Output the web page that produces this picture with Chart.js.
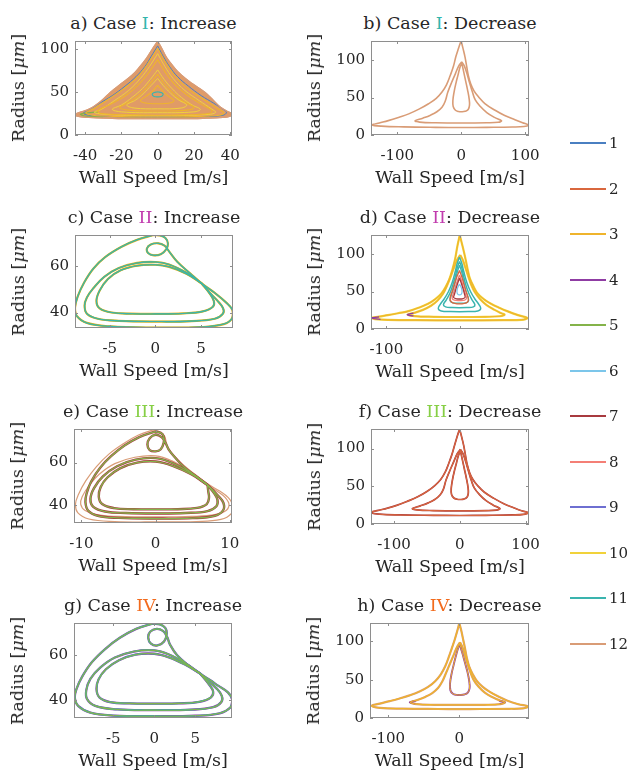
<!DOCTYPE html>
<html lang="en">
<head>
<meta charset="UTF-8">
<title>Radius vs wall speed - cases I to IV</title>
<script src="https://cdn.jsdelivr.net/npm/chart.js"></script>
<style>
  body { margin: 0; background: #fff; }
  #fig { position: relative; width: 628px; height: 771px; font-family: "DejaVu Serif", serif; color: #262626; overflow: hidden; }
  #fig canvas { position: absolute; }
  .ttl, .xl { position: absolute; font-size: 17.5px; line-height: 20px; text-align: center; white-space: nowrap; }
  .yl { position: absolute; font-size: 17.5px; line-height: 20px; white-space: nowrap; transform: translate(-50%, -50%) rotate(-90deg); }
  .leg { position: absolute; left: 570px; width: 36px; height: 2px; }
  .legt { position: absolute; left: 609px; font-size: 15px; line-height: 18px; }
</style>
</head>
<body>
<div id="fig"></div>
<script>
// ---- series (legend) ----
const seriesNames = ['1', '2', '3', '4', '5', '6', '7', '8', '9', '10', '11', '12'];
const seriesColors = ['#4a7fc1', '#d9673e', '#efb42c', '#8f3ca3', '#84b34a', '#7cc6ea',
                      '#a83a3f', '#f47f76', '#6e6fd1', '#f1d23a', '#3ab4ae', '#d99c76'];

// ---- tick labels ----
const xTicksA = [-40, -20, 0, 20, 40];
const xTicksBF = [-100, 0, 100];
const xTicksDH = [-100, 0];
const xTicksCG = [-5, 0, 5];
const xTicksE = [-10, 0, 10];
const yTicksR = [0, 50, 100];
const yTicksS = [40, 60];

// ---- a) Case I: Increase  (wall speed [m/s], radius [um]) ----
const aOuter = [[0,109.5],[2.5,100],[5,90],[8.6,80],[13,70],[19,60],[26,50],[30,42],[34.3,33],[38,28],[40.8,25],[40,22],[36,20.5],[25,19.5],[10,19],[0,19],[-10,19],[-25,19.5],[-38,20.5],[-44.5,22],[-45.3,24],[-43,26.5],[-39,29],[-35.4,33],[-31,40],[-26,50],[-20,60],[-14,70],[-9.7,80],[-6,90],[-3,100],[0,109.5]];
const aBlue = [[0,104],[3,92],[6.5,80],[11,68],[17,57],[24,46],[31,37],[36,30],[38,26.5],[36,23],[25,21.5],[0,21],[-25,21.5],[-38,23],[-41,25.5],[-38,29],[-32,37],[-25,46],[-18,57],[-12,68],[-7,80],[-3.5,92],[0,104]];
const aGreen = [[-33,27],[-42.5,24.5],[-40,22],[-30,21]];
const aY1 = [[0,101],[4,86],[9,70],[16,55],[25,42],[33,31],[36.5,26],[34,23],[20,21.5],[0,21],[-20,21.5],[-36,23],[-39.5,26],[-35,31],[-27,42],[-18,55],[-10,70],[-4.5,86],[0,101]];
const aY1b = [[0,95],[4,80],[8.5,66],[15,52],[23,40],[30,30],[32,26.5],[28,24],[0,22.5],[-28,24],[-35,26.5],[-31,30],[-24,40],[-16,52],[-9.5,66],[-4.5,80],[0,95]];
const aY2 = [[0,88],[4,74],[9,60],[16,47],[24,36],[30,28.5],[28,25],[15,23.5],[0,23],[-15,23.5],[-31,25],[-33,28.5],[-26,36],[-17,47],[-10,60],[-4.5,74],[0,88]];
const aY3 = [[0,76],[3.5,65],[8,54],[13,44],[19,35],[23.5,30],[20,27],[0,26],[-20,27],[-25,30],[-20,35],[-14,44],[-8.5,54],[-4,65],[0,76]];
const aY3b = [[0,71],[3.3,61],[7.5,51],[12,42],[17,36],[20,32],[16,29],[0,28],[-16,29],[-21,32],[-18,36],[-13,42],[-8,51],[-3.8,61],[0,71]];
const aY4 = [[0,66],[3,58],[7,49],[11.5,41],[16,35],[13,31.5],[0,30.5],[-13,31.5],[-17,35],[-12,41],[-7.5,49],[-3.5,58],[0,66]];
const aY5 = [[0,58],[3,51],[6,45],[9,40],[6,37],[0,36.5],[-6,37],[-9.5,40],[-6.5,45],[-3,51],[0,58]];
const aCore = [[0,50.5],[2.5,49],[3,47],[2,45],[0,44.5],[-2,45],[-3,47],[-2.5,49],[0,50.5]];

// ---- b) Case I: Decrease ----
const bOuter = [[0,125.4],[3,115],[6,104],[8.5,92],[11,80],[15,68],[20,59],[27,51],[37,42],[53,33],[68,26],[84,20.5],[96,16.5],[105,13.4],[98,11.3],[80,10.6],[40,10.2],[0,10],[-40,10.2],[-90,10.8],[-125,11.8],[-139,13.4],[-128,16],[-114,19.2],[-98,23.5],[-82,28.2],[-66,34.5],[-51,41.7],[-39,49],[-30,57.4],[-23,67],[-17,79.7],[-12,92],[-8.4,104.4],[-4.5,115],[-1.5,122.5],[0,125.4]];
const bMid = [[1,97.7],[5,92],[9,82],[13,70],[17.7,57],[22,47],[30,38],[40,30],[52,23.5],[63,19],[58,17],[40,16.3],[0,16],[-40,16.3],[-65,17.2],[-72,19],[-60,22.5],[-48,26.5],[-38,31],[-30,37],[-25,45],[-21,57],[-15,70],[-9,82],[-4,92],[1,97.7]];
const bTear = [[1,96],[-2,90],[-5,80],[-8,70],[-11,58],[-13,46],[-12.5,38],[-9,33],[-4,31.3],[1,31],[6,31.6],[11,34],[13,40],[12.5,48],[10,60],[7,72],[4,84],[2,92],[1,96]];

// ---- c) Case II: Increase ----
const cOuter = [[-0.3,73.5],[0.5,73.4],[1.1,72.3],[1.37,70],[1.2,67.5],[0.6,65.3],[-0.2,64.8],[-0.8,65.8],[-0.92,67.8],[-0.5,69.5],[0.3,70],[1.0,69],[1.5,66.5],[2.4,62],[3.8,57],[5.1,52.5],[6.5,48.5],[7.7,44.5],[8.45,41],[8.4,37.5],[7.5,35],[5,33.7],[0,33.5],[-5,34],[-7.5,35.5],[-8.6,38.5],[-8.8,42],[-8.5,47],[-7.8,53],[-6.8,59],[-5.5,64],[-3.7,68.5],[-2,71.5],[-0.3,73.5]];
const cLoop2 = [[5.1,52.5],[3.5,57],[1.5,60.8],[0,61.9],[-2,61.5],[-4,59.3],[-5.6,55.5],[-6.8,50.5],[-7.5,46.5],[-7.75,43],[-7.5,39.5],[-6.3,37.3],[-4,36.4],[0,36.1],[4,36.3],[6.5,37.3],[7.4,39.5],[7.4,42],[6.7,45.5],[5.9,48.8],[5.1,52.5]];
const cLoop3 = [[5.1,52.5],[3.4,56.8],[1.5,59.8],[0,60.7],[-2,60.3],[-3.8,58.3],[-5.2,54.5],[-6.1,49.5],[-6.45,45],[-6.1,41.8],[-4.8,40],[-2.5,39.5],[0,39.4],[3,39.6],[5.2,40.5],[6.3,42.5],[6.4,45],[5.9,48.5],[5.1,52.5]];

// ---- d) Case II: Decrease ----
const dOuter = [[0.4,125.4],[3,115],[6,103],[8.5,92],[11,80],[14,68],[19,57],[25,47],[33,40],[43,33.7],[55,28],[66,23.5],[80,18.5],[92.6,14.6],[85,12.3],[60,11.8],[0,11.5],[-60,11.8],[-105,12.5],[-120,14.6],[-110,16.5],[-98,18.5],[-84,21],[-71,23.5],[-57,28],[-43,33.7],[-33,40],[-25,47],[-18.5,57],[-13.7,67],[-9.5,80],[-6,93.5],[-3,110],[0.4,125.4]];
const dMid = [[1,98.8],[4.5,92],[8,82],[12,70],[16,59],[21,49],[28,40],[37,32],[48,25.5],[57,21],[61.6,19],[55,17],[35,16.3],[0,16],[-35,16.3],[-62,17.2],[-70.8,19],[-62,21.5],[-50,25.5],[-39,31],[-30,38],[-22.5,47],[-17,58],[-12,70],[-7.5,82],[-3.5,92],[1,98.8]];
const dPurpL = [[-63,21.2],[-71.5,19],[-63,17.4]];
const dPurpR = [[-110,16.2],[-120.5,14.6],[-108,12.8]];
const dTeal1 = [[0,96],[3,88],[6,76],[10,62],[15,50],[21,40],[27,32],[29,27],[25,24],[12,23.2],[0,23],[-12,23.2],[-25,24],[-29,27],[-27,32],[-21,40],[-15,50],[-10,62],[-6,76],[-3,88],[0,96]];
const dTeal2 = [[0,90],[3,82],[5.5,71],[8.5,59],[12.5,48],[17,39],[21,32.5],[19,29.5],[10,28.7],[0,28.5],[-10,28.7],[-19,29.5],[-22,32.5],[-18,39],[-13,48],[-9,59],[-5.5,71],[-3,82],[0,90]];
const dTeal3 = [[0,85],[3,76],[5.5,64],[8,53],[11,44],[12.5,38],[9,35],[0,34.5],[-9,35],[-13,38],[-11.5,44],[-8.5,53],[-5.5,64],[-3,76],[0,85]];
const dOr1 = [[0,78],[3,70],[6,60],[9,50],[12,41],[11,36],[5,33.8],[0,33.5],[-5,33.8],[-11,36],[-13,41],[-10,50],[-7,60],[-3.5,70],[0,78]];
const dOr2 = [[0,72],[3,64],[5.5,55],[8,47],[9.5,41],[7,38.5],[0,38],[-7,38.5],[-10,41],[-8.5,47],[-6,55],[-3,64],[0,72]];
const dOr3 = [[0,68],[2.5,61],[5,53],[7,46],[7.5,42],[4,40.3],[0,40],[-4,40.3],[-8,42],[-7,46],[-5,53],[-2.5,61],[0,68]];
const dCore = [[0,60],[2.5,55],[3.5,50],[2.5,46.5],[0,45.5],[-2.5,46.5],[-3.5,50],[-2.5,55],[0,60]];

// ---- e) Case III: Increase ----
const eTan1 = [[-0.3,75.4],[0.5,74.5],[1.2,72.5],[1.4,70],[1.6,67],[2.4,63.5],[3.7,59],[5.3,54.5],[7,50],[8.7,46.5],[9.8,43.5],[10.4,40],[10.2,36],[8.8,33.3],[5.5,32.3],[0,32.1],[-5.5,32.3],[-9,33.5],[-10.5,36.5],[-10.8,40.5],[-10.4,45],[-9.4,51.5],[-8,58],[-6.3,64],[-4.3,69],[-2.3,73],[-0.3,75.4]];
const eTan2 = [[7,49.5],[4.8,55.5],[2.2,60.8],[0,63.2],[-2.8,62.5],[-5.5,59.5],[-7.6,54.5],[-9,49],[-9.9,44],[-10.1,40.5],[-9.5,37.5],[-7.5,35.3],[-4,34.6],[0,34.5],[4,34.6],[7.5,35.3],[9.3,37],[9.9,40],[9.4,43.5],[8.3,46.5],[7,49.5]];
const eLoop1 = [[-0.2,74.5],[0.7,74],[1.1,72.3],[1.1,69.5],[0.7,66.3],[0,65.3],[-0.8,65.9],[-1.1,68.5],[-0.8,71.5],[0,73.1],[0.8,72],[1.3,69.5],[1.8,66],[2.6,62.5],[3.8,58],[5.3,54],[7,49.5],[8.4,44.5],[9.15,41],[9.1,37.5],[8,35],[5,33.9],[0,33.7],[-5,34],[-7.8,35],[-9.1,37.5],[-9.46,41.5],[-9.3,45.5],[-8.7,51],[-7.5,57.5],[-6,63],[-4.2,68],[-2.2,72],[-0.2,74.5]];
const eLoop2 = [[7,49.5],[4.8,55],[2.3,59.8],[0,62.1],[-2.7,61.4],[-5.2,58.3],[-7.1,53.5],[-8.3,48],[-8.78,43],[-8.4,39.2],[-6.8,37],[-4,36.3],[0,36.1],[4,36.3],[7,37.2],[8.2,39.5],[8.34,42.5],[7.9,45.5],[7,49.5]];
const eLoop3 = [[7,49.5],[4.8,54.5],[2.3,58.5],[0,60.5],[-2.5,60],[-4.8,57.3],[-6.5,53],[-7.4,48.5],[-7.66,44],[-7.2,40.5],[-5.6,38.6],[-3,38.1],[0,38],[3,38.1],[5.6,38.7],[6.9,40.5],[7.2,43.5],[7.1,46.5],[7,49.5]];

// ---- f) Case III: Decrease ----
const fOuter = [[0,125.5],[3,115],[6,104],[8.5,92],[11,80],[15,68],[20,59],[27,51],[37,42.5],[52,34],[67,27],[82,21.5],[94,17.5],[104,15],[97,12.8],[80,12],[40,11.5],[0,11.3],[-40,11.5],[-90,12],[-122,13],[-135,15.5],[-124,18],[-110,21],[-95,25],[-80,30],[-64,36],[-50,43],[-38,51],[-29,59],[-22,69],[-16.5,81],[-12,92],[-8,104],[-4.3,115],[-1.5,122.5],[0,125.5]];
const fMid = [[1,99],[5,93],[9,83],[13,71],[17.5,58],[22,48],[30,39],[40,31],[51,25],[61,20.5],[56,18.5],[40,17.8],[0,17.5],[-40,17.8],[-65,18.7],[-72,20.5],[-60,24],[-48,28],[-38,32.5],[-30,38.5],[-25,46],[-21,58],[-15,71],[-9,83],[-4,93],[1,99]];
const fTear = [[1,97],[-2,91],[-5,81],[-8,71],[-11,59],[-13,47],[-12.5,39],[-9,34.5],[-4,32.8],[1,32.5],[6,33],[11,35.5],[13,41],[12.5,49],[10,61],[7,73],[4,85],[2,93],[1,97]];

// ---- g) Case IV: Increase ----
const gOuter = [[-0.2,74.1],[0.7,73.8],[1.35,72.2],[1.52,69.5],[1.2,66.2],[0.4,64.4],[-0.4,65.2],[-0.73,67.8],[-0.5,70.5],[0.3,71.8],[1.1,70.8],[1.6,68],[1.9,65],[2.8,60],[4.2,55.5],[5.6,51.9],[6.8,49],[7.8,46.5],[9,43.5],[9.55,40],[9.3,36.8],[8,34.2],[5,33.1],[0,32.9],[-5,33.2],[-7.8,34.5],[-9.3,37.5],[-9.7,41],[-9.5,45],[-8.8,50.5],[-7.6,57],[-6,62.8],[-4.2,67.8],[-2.2,71.8],[-0.2,74.1]];
const gLoop2 = [[5.6,51.9],[3.8,56.5],[1.8,60.4],[0,62.2],[-2.5,61.7],[-4.8,59],[-6.6,54.5],[-7.8,49.5],[-8.3,44.5],[-8.2,40.5],[-7.2,37.5],[-4.5,35.9],[0,35.6],[4.5,35.8],[7.2,36.9],[8.2,39.2],[8.25,42],[7.6,45.3],[6.6,48.5],[5.6,51.9]];
const gLoop3 = [[5.6,51.9],[3.8,55.8],[1.8,59.1],[0,60.7],[-2.3,60.3],[-4.3,57.8],[-5.9,53.8],[-6.8,49.3],[-7.05,45],[-6.7,41.3],[-5.4,39.2],[-3,38.6],[0,38.5],[3,38.6],[5.5,39.3],[6.9,41.2],[7.2,43.8],[6.7,47],[5.6,51.9]];

// ---- h) Case IV: Decrease ----
const hOuter = [[0,123.6],[3,113],[5.5,102],[8,91],[10.5,79],[14,67],[19,57],[25,48],[33,40.5],[43,34],[55,28],[68,22.5],[83,18],[97,15],[90,12.6],[70,12],[30,11.7],[0,11.6],[-30,11.7],[-80,12.2],[-112,13.3],[-123.4,16],[-112,18.8],[-98,22],[-84,25.5],[-70,29.5],[-56,34.5],[-44,40.5],[-34,48],[-26,57],[-20,67],[-15,79],[-10.5,91],[-6.5,102],[-3,113],[0,123.6]];
const hMid = [[1,98.7],[4.5,92],[8,82],[11.5,71],[15.5,60],[20,50],[27,41],[36,33],[47,27],[58,22.5],[64.4,20.5],[58,18.2],[35,17.2],[0,17],[-35,17.2],[-60,18.2],[-69,20.5],[-59,23.5],[-48,27.5],[-38,32.5],[-30,39],[-24,47.5],[-19,58],[-13.5,70],[-8,82],[-3.5,92],[1,98.7]];
const hTear = [[1,97],[-2,90],[-5,80],[-8,69],[-11,57],[-13,45],[-12.5,36],[-9,31.5],[-4,30.2],[1,30],[7,30.6],[12,33],[14.5,39],[14,48],[11.5,60],[8,72],[4.5,84],[2,92],[1,97]];
const hPurpL = [[-61,22.6],[-70,20.4],[-62,18.5]];
const hPurpR = [[56,22.6],[64.5,20.4],[57,18.5]];

// ---- panels: layout (pixel box l,t,r,b) + what goes in them ----
// layers are listed bottom to top: [trajectory, series number, line width, fill?]
const panels = [
  { box: [75, 41, 232, 135], xr: [-45.6, 41], yr: [0, 109.7], xt: xTicksA, yt: yTicksR,
    title: ['a) Case ', 'I', ': Increase'], caseColor: '#32b5ac',
    layers: [[aOuter, 12, 1.2, true], [aBlue, 1, 1.0], [aGreen, 5, 1.2], [aY1, 3, 1.1], [aY1b, 10, 1.0], [aY2, 3, 1.1], [aY3, 10, 1.0], [aY3b, 3, 1.1], [aY4, 10, 1.0], [aY5, 3, 1.1], [aCore, 11, 1.1], [aOuter, 12, 1.2]] },
  { box: [371, 41, 529, 135], xr: [-141, 106], yr: [0, 125.5], xt: xTicksBF, yt: yTicksR,
    title: ['b) Case ', 'I', ': Decrease'], caseColor: '#32b5ac',
    layers: [[bOuter, 12, 1.6], [bMid, 12, 1.6], [bTear, 12, 1.6]] },
  { box: [75, 235, 233, 328], xr: [-8.8, 8.5], yr: [33.3, 73.6], xt: xTicksCG, yt: yTicksS,
    title: ['c) Case ', 'II', ': Increase'], caseColor: '#c13cae',
    layers: [[cOuter, 3, 2.2], [cLoop2, 3, 2.2], [cLoop3, 3, 2.2], [cOuter, 5, 1.6], [cLoop2, 5, 1.6], [cLoop3, 5, 1.6], [cOuter, 11, 1.1], [cLoop2, 11, 1.1], [cLoop3, 11, 1.1]] },
  { box: [371, 235, 529, 329], xr: [-121, 95], yr: [0, 125.4], xt: xTicksDH, yt: yTicksR,
    title: ['d) Case ', 'II', ': Decrease'], caseColor: '#c13cae',
    layers: [[dOuter, 10, 2.2], [dMid, 10, 2.2], [dOuter, 3, 1.1], [dMid, 3, 1.1], [dPurpL, 4, 1.3], [dPurpR, 4, 1.3], [dTeal1, 11, 1.5], [dTeal2, 11, 1.5], [dTeal3, 11, 1.3], [dOr1, 2, 1.3], [dOr2, 8, 1.3], [dOr3, 7, 1.3], [dCore, 6, 1.2]] },
  { box: [74, 429, 232, 523], xr: [-11, 10.3], yr: [31.6, 75.8], xt: xTicksE, yt: yTicksS,
    title: ['e) Case ', 'III', ': Increase'], caseColor: '#86cf45',
    layers: [[eTan1, 12, 1.2], [eTan2, 12, 1.2], [eLoop1, 7, 2.4], [eLoop2, 7, 2.4], [eLoop3, 7, 2.4], [eLoop1, 5, 1.3], [eLoop2, 5, 1.3], [eLoop3, 5, 1.3]] },
  { box: [371, 429, 529, 524], xr: [-135, 105.3], yr: [0, 126], xt: xTicksBF, yt: yTicksR,
    title: ['f) Case ', 'III', ': Decrease'], caseColor: '#86cf45',
    layers: [[fOuter, 7, 1.7], [fMid, 7, 1.7], [fTear, 7, 1.7], [fOuter, 2, 1.1], [fMid, 2, 1.1], [fTear, 2, 1.1]] },
  { box: [74, 623, 232, 718], xr: [-9.8, 9.5], yr: [32.1, 74.4], xt: xTicksCG, yt: yTicksS,
    title: ['g) Case ', 'IV', ': Increase'], caseColor: '#f26b1d',
    layers: [[gOuter, 4, 2.3], [gLoop2, 4, 2.3], [gLoop3, 4, 2.3], [gOuter, 11, 1.7], [gLoop2, 11, 1.7], [gLoop3, 11, 1.7], [gOuter, 5, 1.1], [gLoop2, 5, 1.1], [gLoop3, 5, 1.1]] },
  { box: [370, 623, 529, 718], xr: [-125.8, 98.2], yr: [0, 123.8], xt: xTicksDH, yt: yTicksR,
    title: ['h) Case ', 'IV', ': Decrease'], caseColor: '#f26b1d',
    layers: [[hOuter, 12, 2.2], [hMid, 12, 2.2], [hTear, 4, 1.9], [hPurpL, 4, 1.6], [hPurpR, 4, 1.6], [hOuter, 3, 1.3], [hMid, 3, 1.3], [hTear, 3, 1.0]] }
];

// MATLAB-like box with inward ticks
const boxPlugin = {
  id: 'matlabBox',
  afterDraw(chart) {
    const { ctx, chartArea: a, scales } = chart;
    ctx.save();
    ctx.strokeStyle = '#8e8e8e';
    ctx.lineWidth = 1;
    ctx.strokeRect(a.left + 0.5, a.top + 0.5, a.width - 1, a.height - 1);
    ctx.beginPath();
    scales.x.ticks.forEach(t => {
      const p = Math.round(scales.x.getPixelForValue(t.value)) + 0.5;
      ctx.moveTo(p, a.bottom); ctx.lineTo(p, a.bottom - 3);
      ctx.moveTo(p, a.top); ctx.lineTo(p, a.top + 3);
    });
    scales.y.ticks.forEach(t => {
      const p = Math.round(scales.y.getPixelForValue(t.value)) + 0.5;
      ctx.moveTo(a.left, p); ctx.lineTo(a.left + 3, p);
      ctx.moveTo(a.right, p); ctx.lineTo(a.right - 3, p);
    });
    ctx.stroke();
    ctx.restore();
  }
};

const Y_AXIS_W = 60, X_AXIS_H = 34, PAD_T = 6, PAD_R = 18;
const fig = document.getElementById('fig');

function axis(range, ticks, horizontal) {
  return {
    type: 'linear', min: range[0], max: range[1],
    grid: { display: false, drawTicks: false },
    border: { display: false },
    ticks: { color: '#262626', font: { family: 'DejaVu Serif', size: 15 }, padding: horizontal ? 12 : 6, autoSkip: false, maxRotation: 0 },
    afterBuildTicks: s => { s.ticks = ticks.map(v => ({ value: v })); },
    afterFit: s => {
      if (horizontal) { s.height = X_AXIS_H; s.paddingLeft = 0; s.paddingRight = 0; }
      else { s.width = Y_AXIS_W; s.paddingTop = 0; s.paddingBottom = 0; }
    }
  };
}

function addText(cls, html, style) {
  const el = document.createElement('div');
  el.className = cls;
  el.innerHTML = html;
  Object.assign(el.style, style);
  fig.appendChild(el);
}

panels.forEach(p => {
  const [l, t, r, b] = p.box;
  const canvas = document.createElement('canvas');
  canvas.width = r - l + Y_AXIS_W + PAD_R;
  canvas.height = b - t + PAD_T + X_AXIS_H;
  canvas.style.left = (l - Y_AXIS_W) + 'px';
  canvas.style.top = (t - PAD_T) + 'px';
  fig.appendChild(canvas);

  const n = p.layers.length;
  const datasets = p.layers.map((ly, i) => {
    const col = seriesColors[ly[1] - 1];
    return {
      label: seriesNames[ly[1] - 1],
      data: ly[0].map(q => ({ x: q[0], y: q[1] })),
      showLine: true,
      borderColor: col,
      backgroundColor: ly[3] ? 'rgba(221,146,90,0.92)' : col,
      borderWidth: ly[2],
      pointRadius: 0,
      tension: 0.4,
      fill: ly[3] ? 'shape' : false,
      order: n - i
    };
  });

  new Chart(canvas, {
    type: 'scatter',
    data: { datasets },
    options: {
      responsive: false,
      animation: false,
      events: [],
      layout: { padding: { left: 0, top: PAD_T, right: PAD_R, bottom: 0 } },
      plugins: { legend: { display: false }, tooltip: { enabled: false } },
      scales: { x: axis(p.xr, p.xt, true), y: axis(p.yr, p.yt, false) }
    },
    plugins: [boxPlugin]
  });

  const cx = (l + r) / 2;
  addText('ttl', p.title[0] + '<span style="color:' + p.caseColor + '">' + p.title[1] + '</span>' + p.title[2],
    { left: (cx - 120) + 'px', width: '240px', top: (t - 28) + 'px' });
  addText('xl', 'Wall Speed [m/s]', { left: (cx - 120) + 'px', width: '240px', top: (b + 32) + 'px' });
  addText('yl', 'Radius [<i>&mu;m</i>]', { left: (l - 57) + 'px', top: ((t + b) / 2) + 'px' });
});

// legend on the right
seriesNames.forEach((name, i) => {
  const yc = 143.3 + i * 45.5;
  const line = document.createElement('div');
  line.className = 'leg';
  line.style.top = (yc - 1) + 'px';
  line.style.background = seriesColors[i];
  fig.appendChild(line);
  addText('legt', name, { top: (yc - 9) + 'px' });
});
</script>
</body>
</html>
